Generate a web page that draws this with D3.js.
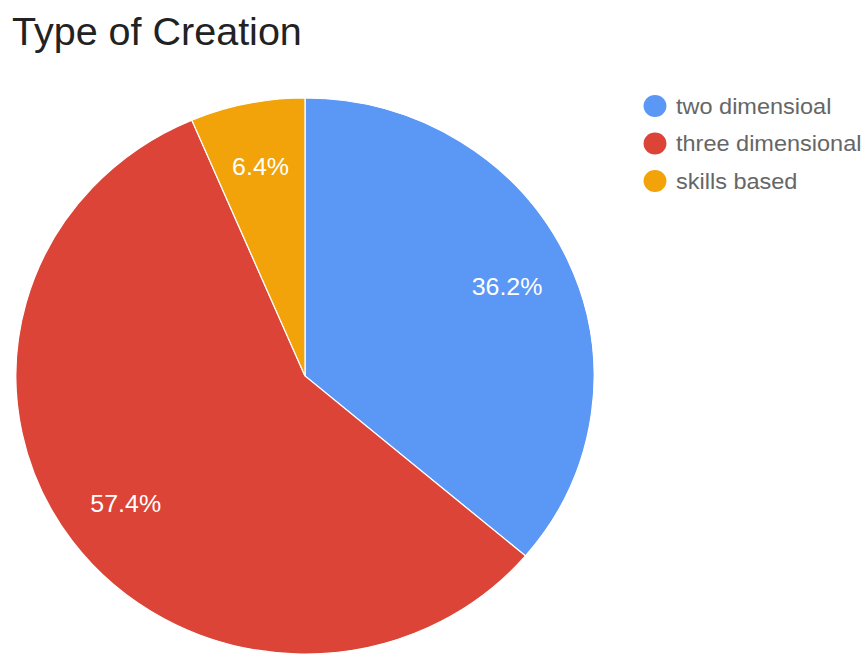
<!DOCTYPE html>
<html>
<head>
<meta charset="utf-8">
<script src="https://cdn.jsdelivr.net/npm/d3@7"></script>
<style>
  html, body { margin: 0; padding: 0; background: #fff; }
  svg { display: block; font-family: "Liberation Sans", Arial, sans-serif; }
</style>
</head>
<body>
<svg id="chart" width="868" height="654"></svg>
<script>
// Share of each creation type
const categories = ["two dimensioal", "three dimensional", "skills based"];
const percents = [36.2, 57.4, 6.4];
const colors = ["#5b97f5", "#db4437", "#f2a30a"];

const W = 868, H = 654;
const svg = d3.select("#chart");

// slight horizontal stretch of the whole drawing
const sx = 1.04;
const root = svg.append("g").attr("transform", `scale(${sx},1)`);

root.append("text")
  .attr("x", 12 / sx)
  .attr("y", 45)
  .attr("font-size", 38)
  .attr("fill", "#222")
  .text("Type of Creation");

const cx = 305 / sx, cy = 376, r = 278;

const pie = d3.pie().sort(null).value(d => d)
  .startAngle(0).endAngle(2 * Math.PI);
const arcs = pie(percents);

const arc = d3.arc().innerRadius(0).outerRadius(r);
const labelArc = d3.arc().innerRadius(r * 0.77).outerRadius(r * 0.77);

const g = root.append("g").attr("transform", `translate(${cx},${cy})`);

g.selectAll("path.slice")
  .data(arcs)
  .join("path")
  .attr("class", "slice")
  .attr("d", arc)
  .attr("fill", (d, i) => colors[i])
  .attr("stroke", "#fff")
  .attr("stroke-width", 1.2);

g.selectAll("text.pct")
  .data(arcs)
  .join("text")
  .attr("class", "pct")
  .attr("transform", d => `translate(${labelArc.centroid(d)})`)
  .attr("text-anchor", "middle")
  .attr("dy", "0.36em")
  .attr("font-size", 24)
  .attr("fill", "#fff")
  .text(d => d.data.toFixed(1) + "%");

// legend
const legend = root.append("g").attr("transform", `translate(${655 / sx},0)`);
const ly = d3.scalePoint().domain(categories).range([106, 181]);
const item = legend.selectAll("g.item")
  .data(categories)
  .join("g")
  .attr("class", "item")
  .attr("transform", d => `translate(0,${ly(d)})`);
item.append("circle")
  .attr("r", 11)
  .attr("fill", (d, i) => colors[i]);
item.append("text")
  .attr("x", 21 / sx)
  .attr("dy", "0.35em")
  .attr("font-size", 22.6)
  .attr("fill", "#666")
  .text(d => d);
</script>
</body>
</html>
